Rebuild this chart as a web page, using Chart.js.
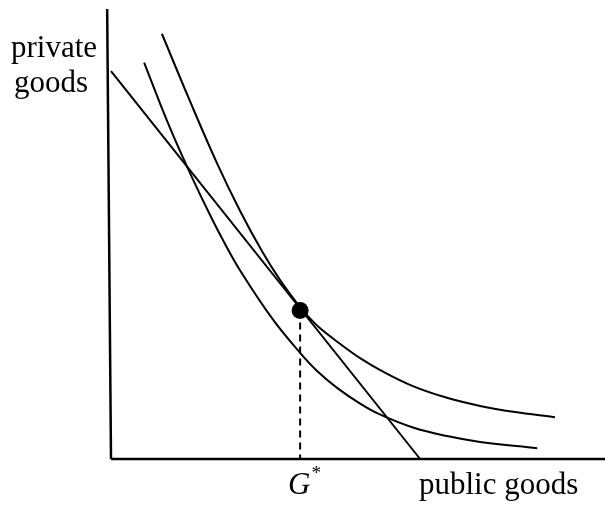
<!DOCTYPE html>
<html>
<head>
<meta charset="utf-8">
<script src="https://cdn.jsdelivr.net/npm/chart.js@4"></script>
<style>
  body { margin: 0; background: #fff; }
  canvas { display: block; }
</style>
</head>
<body>
<canvas id="chart" width="605" height="505"></canvas>
<script>
// values (public goods on x, private goods on y)
const outerCurveX = [1.06, 1.65, 2.21, 2.69, 3.15, 3.52, 3.92, 4.15, 4.35, 4.77, 5.19, 5.60, 6.29, 7.00, 7.69, 8.38, 9.25];
const outerCurveY = [9.45, 7.94, 6.57, 5.51, 4.61, 3.98, 3.40, 3.12, 2.91, 2.56, 2.24, 1.98, 1.62, 1.36, 1.18, 1.05, 0.93];

const innerCurveX = [0.69, 1.17, 1.58, 2.00, 2.31, 2.69, 3.38, 3.94, 4.30, 4.71, 5.19, 5.60, 6.29, 7.00, 7.69, 8.88];
const innerCurveY = [8.81, 7.51, 6.51, 5.56, 4.91, 4.19, 3.09, 2.36, 1.95, 1.58, 1.23, 0.99, 0.70, 0.51, 0.38, 0.24];

const budgetX = [0, 6.44];
const budgetY = [8.62, 0];

const optimumX = 3.94;
const optimumY = 3.30;

const yAxisX = [-0.08, 0];
const yAxisY = [10, 0];
const xAxisX = [0, 10.3];
const xAxisY = [0, 0];

const yLabel = ['private', 'goods'];
const xLabel = 'public goods';
const optimumLabel = 'G';

const toPoints = (xs, ys) => xs.map((x, i) => ({ x, y: ys[i] }));

const lineSet = (xs, ys, extra) => Object.assign({
  data: toPoints(xs, ys),
  showLine: true,
  borderColor: '#000',
  borderWidth: 2,
  pointRadius: 0,
  fill: false,
  clip: false,
}, extra || {});

const labelsPlugin = {
  id: 'labels',
  afterDraw(chart) {
    const ctx = chart.ctx;
    ctx.save();
    ctx.fillStyle = '#000';
    ctx.textBaseline = 'alphabetic';
    ctx.font = '31px "Liberation Serif", "Times New Roman", serif';
    ctx.textAlign = 'left';
    ctx.fillText(yLabel[0], 11, 57);
    ctx.fillText(yLabel[1], 14, 92);
    ctx.fillText(xLabel, 419, 494);

    const gx = chart.scales.x.getPixelForValue(optimumX);
    ctx.font = 'italic 31px "Liberation Serif", "Times New Roman", serif';
    ctx.fillText(optimumLabel, gx - 12, 494);
    const w = ctx.measureText(optimumLabel).width;
    ctx.font = '19px "Liberation Serif", "Times New Roman", serif';
    ctx.fillText('*', gx - 11 + w, 479);
    ctx.restore();
  },
};

new Chart(document.getElementById('chart'), {
  type: 'scatter',
  data: {
    datasets: [
      {
        data: [{ x: optimumX, y: optimumY }],
        pointRadius: 8.5,
        pointBackgroundColor: '#000',
        pointBorderColor: '#000',
        pointBorderWidth: 0,
        clip: false,
      },
      lineSet(outerCurveX, outerCurveY, { tension: 0.4 }),
      lineSet(innerCurveX, innerCurveY, { tension: 0.4 }),
      lineSet(budgetX, budgetY),
      lineSet([optimumX, optimumX], [optimumY, 0], { borderDash: [7, 5], borderWidth: 2 }),
      lineSet(yAxisX, yAxisY, { borderWidth: 2.5 }),
      lineSet(xAxisX, xAxisY, { borderWidth: 2.5 }),
    ],
  },
  options: {
    responsive: false,
    animation: false,
    layout: { padding: { left: 111, right: 14, top: 9, bottom: 46 } },
    scales: {
      x: { type: 'linear', min: 0, max: 10, display: false },
      y: { type: 'linear', min: 0, max: 10, display: false },
    },
    plugins: {
      legend: { display: false },
      tooltip: { enabled: false },
    },
  },
  plugins: [labelsPlugin],
});
</script>
</body>
</html>
